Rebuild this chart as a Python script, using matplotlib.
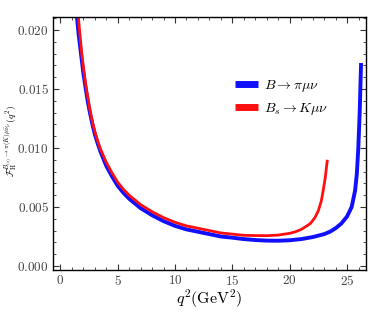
import matplotlib
matplotlib.use('Agg')
import matplotlib.pyplot as plt
from matplotlib.ticker import MultipleLocator, FuncFormatter

plt.rcParams['mathtext.fontset'] = 'cm'
plt.rcParams['font.family'] = 'serif'

# B -> pi mu nu
q2_b = [1.45, 1.6, 1.8, 2.0, 2.2, 2.4, 2.6, 2.8, 3.0, 3.25, 3.5, 4.0, 4.5, 5.0,
        5.5, 6.0, 7.0, 8.0, 9.0, 10.0, 11.0, 12.0, 13.0, 14.0, 15.0, 16.0, 17.0,
        18.0, 19.0, 20.0, 21.0, 22.0, 23.0, 23.5, 24.0, 24.5, 25.0, 25.4, 25.7,
        25.85, 25.98, 26.1, 26.22]
f_b = [0.0211, 0.0196, 0.0180, 0.0164, 0.0151, 0.0139, 0.0129, 0.0120, 0.0112,
       0.0104, 0.0097, 0.0085, 0.0076, 0.0068, 0.0062, 0.0057, 0.0049, 0.0043,
       0.0038, 0.0034, 0.0031, 0.0029, 0.0027, 0.0025, 0.0024, 0.00228, 0.0022,
       0.00215, 0.00214, 0.00218, 0.00228, 0.00245, 0.0027, 0.0029, 0.0032,
       0.0036, 0.0042, 0.0050, 0.0064, 0.0078, 0.0100, 0.0130, 0.0172]

# Bs -> K mu nu
q2_bs = [1.57, 1.75, 1.9, 2.1, 2.25, 2.45, 2.6, 2.8, 3.0, 3.25, 3.5, 4.0, 4.5,
         5.0, 5.5, 6.0, 7.0, 8.0, 9.0, 10.0, 11.0, 12.0, 13.0, 14.0, 15.0, 16.0,
         17.0, 18.0, 19.0, 20.0, 20.5, 21.0, 21.5, 21.8, 22.2, 22.5, 22.75, 22.9,
         23.1, 23.28]
f_bs = [0.0211, 0.0192, 0.0177, 0.0162, 0.0151, 0.0140, 0.0131, 0.0122, 0.0114,
        0.0106, 0.0099, 0.0088, 0.0079, 0.0071, 0.0065, 0.0060, 0.0052, 0.0046,
        0.0041, 0.0037, 0.0034, 0.0032, 0.0030, 0.0028, 0.0027, 0.0026, 0.00258,
        0.00257, 0.00262, 0.00277, 0.0029, 0.0031, 0.0034, 0.0036, 0.0041,
        0.0047, 0.0055, 0.0063, 0.0075, 0.0090]

fig = plt.figure(figsize=(3.74, 3.12), dpi=100)
ax = fig.add_axes([0.1417, 0.1346, 0.8369, 0.8109])

ax.plot(q2_b, f_b, color='#1010ff', lw=2.8, solid_capstyle='butt',
        label=r'$B\to\pi\mu\nu$')
ax.plot(q2_bs, f_bs, color='#ff1010', lw=2.0, solid_capstyle='butt',
        label=r'$B_s\to K\mu\nu$')

ax.set_xlim(-0.64, 26.65)
ax.set_ylim(-0.00034, 0.0211)
ax.xaxis.set_major_locator(MultipleLocator(5))
ax.xaxis.set_minor_locator(MultipleLocator(1))
ax.yaxis.set_major_locator(MultipleLocator(0.005))
ax.yaxis.set_minor_locator(MultipleLocator(0.001))
ax.xaxis.set_major_formatter(FuncFormatter(lambda v, p: r'$%d$' % v))
ax.yaxis.set_major_formatter(FuncFormatter(lambda v, p: r'$%.3f$' % v))
ax.tick_params(which='both', direction='in', top=True, right=True,
               labelsize=9.5, colors='#333333', labelcolor='#444444')
ax.tick_params(which='major', length=4, pad=3)
ax.tick_params(which='minor', length=2)
for s in ax.spines.values():
    s.set_linewidth(1.0)

ax.set_xlabel(r'$q^2(\mathrm{GeV}^2)$', fontsize=11.5)
ax.xaxis.set_label_coords(0.50, -0.068)
ax.set_ylabel(r'$\mathcal{F}_{\rm H}^{B_{(s)}\to\pi(K)\mu\bar{\nu}_\mu}(q^2)$',
              fontsize=7)
ax.yaxis.set_label_coords(-0.108, 0.51)

leg = ax.legend(loc='upper left', bbox_to_anchor=(0.54, 0.81), frameon=False,
                fontsize=10, handlelength=1.7, handleheight=0.6,
                labelspacing=0.5, handletextpad=0.4)
for h in leg.get_lines():
    h.set_linewidth(5)

plt.savefig('out.png', dpi=100)
